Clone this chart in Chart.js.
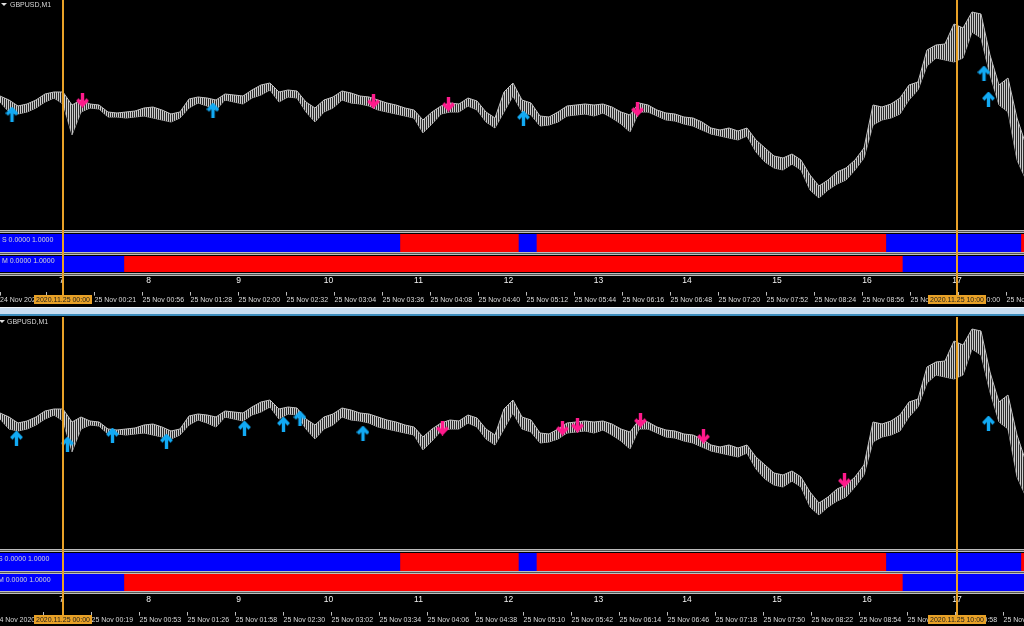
<!DOCTYPE html>
<html lang="en">
<head>
<meta charset="UTF-8">
<title>GBPUSD,M1</title>
<script src="https://cdn.jsdelivr.net/npm/chart.js"></script>
<style>
  body { margin: 0; background: #000; width: 1024px; height: 626px; overflow: hidden; position: relative;
         font-family: "Liberation Sans", Arial, sans-serif; }
  canvas, .sep, .txt, .tri, .gap { position: absolute; }
  canvas { left: 0; }
  .sep { left: 0; width: 1024px; height: 3px; box-sizing: border-box; background: #555;
         border-top: 1px solid #bcbcbc; border-bottom: 1px solid #bcbcbc; }
  .gap { left: 0; top: 307px; width: 1024px; height: 9px; box-sizing: border-box; background: #c8ddf1;
         border-top: 1px solid #eef4fa; border-bottom: 2px solid #3c8dbd; }
  .txt { font-size: 7px; line-height: 8px; color: #d6d6d6; white-space: nowrap; }
  .tri { width: 0; height: 0; border-left: 3px solid transparent; border-right: 3px solid transparent;
         border-top: 3px solid #e0e0e0; }
</style>
</head>
<body>
  <div class="sep" style="top:230px"></div>
  <div class="sep" style="top:252px"></div>
  <div class="sep" style="top:273px"></div>
  <div class="gap"></div>
  <div class="sep" style="top:549px"></div>
  <div class="sep" style="top:571px"></div>
  <div class="sep" style="top:591px"></div>

  <canvas id="priceTop" width="1024" height="232" style="top:0"></canvas>
  <canvas id="sTop" width="1024" height="23" style="top:232px"></canvas>
  <canvas id="mTop" width="1024" height="21" style="top:255px"></canvas>
  <canvas id="axisTop" width="1024" height="28" style="top:276px"></canvas>

  <canvas id="priceBot" width="1024" height="237" style="top:314px"></canvas>
  <canvas id="sBot" width="1024" height="23" style="top:551px"></canvas>
  <canvas id="mBot" width="1024" height="20" style="top:574px"></canvas>
  <canvas id="axisBot" width="1024" height="30" style="top:594px"></canvas>

  <div class="tri" style="left:1px;top:3px"></div>
  <div class="txt" style="left:10px;top:0.5px">GBPUSD,M1</div>
  <div class="txt" style="left:2px;top:236px">S 0.0000 1.0000</div>
  <div class="txt" style="left:2px;top:256.5px">M 0.0000 1.0000</div>

  <div class="tri" style="left:-1px;top:320px"></div>
  <div class="txt" style="left:7px;top:317.5px">GBPUSD,M1</div>
  <div class="txt" style="left:-2px;top:554.5px">S 0.0000 1.0000</div>
  <div class="txt" style="left:-2px;top:575.5px">M 0.0000 1.0000</div>

<script>
    // bar index: 0 = 25 Nov 00:00, one M1 bar = 1.5px on screen
    const xMin = -42, xMax = 640.67;

    // price range (high/low) read every 6 bars, starting at bar -42
    const firstBar = -42, barStep = 6;
    const barHigh = [1.33808,1.33800,1.33788,1.33792,1.33800,1.33812,1.33816,1.33816,1.33790,1.33800,
        1.33792,1.33790,1.33776,1.33774,1.33776,1.33778,1.33784,1.33786,1.33780,1.33772,
        1.33776,1.33802,1.33806,1.33804,1.33800,1.33812,1.33810,1.33808,1.33820,1.33830,
        1.33834,1.33816,1.33820,1.33818,1.33796,1.33784,1.33800,1.33806,1.33818,1.33814,
        1.33808,1.33806,1.33800,1.33794,1.33790,1.33784,1.33780,1.33760,1.33776,1.33788,
        1.33794,1.33792,1.33804,1.33798,1.33776,1.33764,1.33816,1.33834,1.33800,1.33794,
        1.33768,1.33766,1.33776,1.33788,1.33790,1.33792,1.33790,1.33792,1.33786,1.33776,
        1.33770,1.33794,1.33790,1.33780,1.33774,1.33772,1.33766,1.33764,1.33756,1.33744,
        1.33740,1.33744,1.33738,1.33744,1.33720,1.33704,1.33688,1.33684,1.33692,1.33680,
        1.33650,1.33628,1.33640,1.33656,1.33664,1.33680,1.33704,1.33790,1.33786,1.33792,
        1.33804,1.33830,1.33836,1.33900,1.33910,1.33912,1.33952,1.33944,1.33976,1.33972,
        1.33890,1.33830,1.33844,1.33764,1.33710];
    const barLow = [1.33796,1.33776,1.33772,1.33776,1.33784,1.33796,1.33804,1.33792,1.33730,1.33776,
        1.33784,1.33782,1.33766,1.33766,1.33764,1.33766,1.33768,1.33764,1.33760,1.33756,
        1.33764,1.33784,1.33794,1.33788,1.33780,1.33800,1.33796,1.33792,1.33804,1.33810,
        1.33820,1.33796,1.33806,1.33804,1.33776,1.33756,1.33776,1.33784,1.33800,1.33794,
        1.33792,1.33788,1.33780,1.33776,1.33772,1.33768,1.33764,1.33734,1.33752,1.33772,
        1.33776,1.33776,1.33788,1.33780,1.33756,1.33744,1.33776,1.33808,1.33776,1.33770,
        1.33748,1.33750,1.33756,1.33768,1.33770,1.33772,1.33768,1.33774,1.33764,1.33752,
        1.33736,1.33776,1.33776,1.33768,1.33760,1.33758,1.33752,1.33748,1.33740,1.33732,
        1.33728,1.33724,1.33720,1.33728,1.33696,1.33676,1.33664,1.33660,1.33672,1.33660,
        1.33620,1.33604,1.33620,1.33632,1.33640,1.33660,1.33684,1.33750,1.33760,1.33764,
        1.33772,1.33800,1.33820,1.33868,1.33884,1.33880,1.33876,1.33884,1.33936,1.33924,
        1.33850,1.33790,1.33776,1.33680,1.33640];

    // signal arrows (bar index, price at arrow centre)
    const topUpBar = [-34, 100, 307, 614, 617];
    const topUpPrice = [1.33772, 1.33780, 1.33764, 1.33854, 1.33802];
    const topDownBar = [13, 207, 257, 383];
    const topDownPrice = [1.33800, 1.33798, 1.33792, 1.33782];
    const botUpBar = [-31, 3, 33, 69, 121, 147, 158, 200, 617];
    const botUpPrice = [1.33758, 1.33746, 1.33764, 1.33752, 1.33778, 1.33786, 1.33798, 1.33768, 1.33788];
    const botDownBar = [253, 333, 343, 385, 427, 521];
    const botDownPrice = [1.33778, 1.33778, 1.33784, 1.33794, 1.33762, 1.33674];

    // S and M state strips: segment edges (bars) and state (1 = blue, 0 = red)
    const sEdges = [-42, 225, 304, 316, 549, 639, 641];
    const sState = [1, 0, 1, 0, 1, 0];
    const mEdges = [-42, 41, 560, 641];
    const mState = [1, 0, 1];

    // hour numbers under the strips
    const hourBars = [-1, 57, 117, 177, 237, 297, 357, 416, 476, 536, 596];
    const hourLabels = ['7', '8', '9', '10', '11', '12', '13', '14', '15', '16', '17'];

    // time axis
    const topTimeBars = [-42, -11, 21, 53, 85, 117, 149, 181, 213, 245, 277, 309, 341, 373, 405, 437, 469, 501, 533, 565, 597, 629];
    const topTimeLabels = ['24 Nov 2020 23:18', '24 Nov 23:49', '25 Nov 00:21', '25 Nov 00:56', '25 Nov 01:28', '25 Nov 02:00',
        '25 Nov 02:32', '25 Nov 03:04', '25 Nov 03:36', '25 Nov 04:08', '25 Nov 04:40', '25 Nov 05:12', '25 Nov 05:44',
        '25 Nov 06:16', '25 Nov 06:48', '25 Nov 07:20', '25 Nov 07:52', '25 Nov 08:24', '25 Nov 08:56', '25 Nov 09:28',
        '25 Nov 10:00', '25 Nov 10:32'];
    const botTimeBars = [-45, -13, 19, 51, 83, 115, 147, 179, 211, 243, 275, 307, 339, 371, 403, 435, 467, 499, 531, 563, 595, 627];
    const botTimeLabels = ['24 Nov 2020 23:15', '24 Nov 23:47', '25 Nov 00:19', '25 Nov 00:53', '25 Nov 01:26', '25 Nov 01:58',
        '25 Nov 02:30', '25 Nov 03:02', '25 Nov 03:34', '25 Nov 04:06', '25 Nov 04:38', '25 Nov 05:10', '25 Nov 05:42',
        '25 Nov 06:14', '25 Nov 06:46', '25 Nov 07:18', '25 Nov 07:50', '25 Nov 08:22', '25 Nov 08:54', '25 Nov 09:26',
        '25 Nov 09:58', '25 Nov 10:30'];

    // vertical line objects
    const markBars = [0, 596];
    const markLabels = ['2020.11.25 00:00', '2020.11.25 10:00'];

    const markColor = '#e8a127';
    const blue = '#0000ff', red = '#ff0000';
    Chart.defaults.font.family = '"Liberation Sans", Arial, sans-serif';

    function noSidePad(s) { s.paddingLeft = 0; s.paddingRight = 0; }

    function arrowImg(col, up) {
        const c = document.createElement('canvas');
        c.width = 13; c.height = 15;
        const g = c.getContext('2d');
        if (!up) { g.translate(0, 15); g.scale(1, -1); }
        g.strokeStyle = col; g.lineWidth = 3.4;
        g.beginPath(); g.moveTo(6.5, 3); g.lineTo(6.5, 15); g.stroke();
        g.beginPath(); g.moveTo(1.3, 8); g.lineTo(6.5, 2.4); g.lineTo(11.7, 8); g.stroke();
        return c;
    }
    const upImg = arrowImg('#12aaf4', true);
    const downImg = arrowImg('#ff1a8c', false);

    // 1.5px bars look like fine vertical hatching
    function barPattern() {
        const c = document.createElement('canvas');
        c.width = 2; c.height = 1;
        const g = c.getContext('2d');
        g.fillStyle = '#cdcdcd'; g.fillRect(0, 0, 1, 1);
        g.fillStyle = '#2c2c2c'; g.fillRect(1, 0, 1, 1);
        return g.createPattern(c, 'repeat');
    }

    function vlines(fromArea) {
        return {
            id: 'vlines',
            afterDatasetsDraw(chart) {
                const xs = chart.scales.x, ctx = chart.ctx;
                const y0 = fromArea ? chart.chartArea.top : 0;
                ctx.save();
                ctx.strokeStyle = markColor; ctx.lineWidth = 2;
                markBars.forEach(b => {
                    const px = Math.round(xs.getPixelForValue(b));
                    ctx.beginPath(); ctx.moveTo(px, y0); ctx.lineTo(px, chart.height); ctx.stroke();
                });
                ctx.restore();
            }
        };
    }

    const timeBox = {
        id: 'timeBox',
        afterDraw(chart) {
            const xs = chart.scales.x, ctx = chart.ctx;
            const mid = xs.top + 4 + 4.2;
            ctx.save();
            ctx.font = '7px "Liberation Sans", Arial, sans-serif';
            markBars.forEach((b, i) => {
                const px = Math.round(xs.getPixelForValue(b));
                ctx.strokeStyle = markColor; ctx.lineWidth = 2;
                ctx.beginPath(); ctx.moveTo(px, 0); ctx.lineTo(px, mid - 4.5); ctx.stroke();
                const w = Math.ceil(ctx.measureText(markLabels[i]).width) + 4;
                ctx.fillStyle = markColor;
                ctx.fillRect(Math.round(px - w / 2), Math.round(mid - 4.5), w, 9);
                ctx.fillStyle = '#1e1e1e'; ctx.textAlign = 'center'; ctx.textBaseline = 'middle';
                ctx.fillText(markLabels[i], px, mid + 0.5);
            });
            ctx.restore();
        }
    };

    const base = { responsive: false, animation: false, events: [], devicePixelRatio: 1,
        plugins: { legend: { display: false }, tooltip: { enabled: false } } };

    function priceChart(id, yMin, pad, upBar, upPrice, downBar, downPrice) {
        const pts = arr => arr.map((v, i) => ({ x: firstBar + i * barStep, y: v }));
        new Chart(document.getElementById(id), {
            type: 'line',
            data: {
                datasets: [
                    { data: pts(barHigh), borderColor: '#bdbdbd', borderWidth: 1, pointRadius: 0, tension: 0,
                      fill: '+1', backgroundColor: barPattern() },
                    { data: pts(barLow), borderColor: '#9a9a9a', borderWidth: 1, pointRadius: 0, tension: 0, fill: false },
                    { data: upBar.map((b, i) => ({ x: b, y: upPrice[i] })), showLine: false, order: -1,
                      pointStyle: upImg, pointRadius: 6 },
                    { data: downBar.map((b, i) => ({ x: b, y: downPrice[i] })), showLine: false, order: -1,
                      pointStyle: downImg, pointRadius: 6 }
                ]
            },
            options: Object.assign({}, base, {
                layout: { padding: pad, autoPadding: false },
                scales: {
                    x: { type: 'linear', min: xMin, max: xMax, display: false },
                    y: { type: 'linear', min: yMin, max: 1.34, display: false }
                }
            }),
            plugins: [vlines(true)]
        });
    }

    function stripChart(id, edges, state, pad) {
        const segs = state.map((s, i) => ({ x: [edges[i], edges[i + 1]], y: 'v' }));
        new Chart(document.getElementById(id), {
            type: 'bar',
            data: {
                labels: ['v'],
                datasets: [{ data: segs, backgroundColor: state.map(s => s ? blue : red), borderWidth: 0,
                             barPercentage: 1, categoryPercentage: 1 }]
            },
            options: Object.assign({}, base, {
                indexAxis: 'y',
                layout: { padding: pad, autoPadding: false },
                scales: {
                    x: { type: 'linear', min: xMin, max: xMax, display: false },
                    y: { display: false }
                }
            }),
            plugins: [vlines(false)]
        });
    }

    function axisChart(id, timeBars, timeLabels, numPad) {
        new Chart(document.getElementById(id), {
            type: 'line',
            data: { datasets: [] },
            options: Object.assign({}, base, {
                layout: { padding: 0, autoPadding: false },
                scales: {
                    y: { display: false },
                    n: {
                        type: 'linear', axis: 'x', position: 'top', min: xMin, max: xMax, bounds: 'data',
                        afterBuildTicks: s => { s.ticks = hourBars.map(v => ({ value: v })); },
                        afterFit: noSidePad,
                        grid: { display: false, drawTicks: false }, border: { display: false },
                        ticks: { autoSkip: false, maxRotation: 0, padding: numPad, color: '#f2f2f2',
                                 font: { size: 8.5 }, callback: (v, i) => hourLabels[i] }
                    },
                    x: {
                        type: 'linear', position: 'bottom', min: xMin, max: xMax, bounds: 'data',
                        afterBuildTicks: s => { s.ticks = timeBars.map(v => ({ value: v })); },
                        afterFit: noSidePad,
                        grid: { drawOnChartArea: false, drawTicks: true, tickLength: 4, color: '#bdbdbd', lineWidth: 1 },
                        border: { display: false },
                        ticks: { autoSkip: false, maxRotation: 0, align: 'start', padding: 0, color: '#dadada',
                                 font: { size: 7 }, callback: (v, i) => timeLabels[i] }
                    }
                }
            }),
            plugins: [timeBox]
        });
    }

    // upper window
    priceChart('priceTop', 1.3354, { bottom: 2 }, topUpBar, topUpPrice, topDownBar, topDownPrice);
    stripChart('sTop', sEdges, sState, { top: 2, bottom: 3 });
    stripChart('mTop', mEdges, mState, { top: 1, bottom: 4 });
    axisChart('axisTop', topTimeBars, topTimeLabels, 0);

    // lower window
    priceChart('priceBot', 1.33536, { top: 3, bottom: 2 }, botUpBar, botUpPrice, botDownBar, botDownPrice);
    stripChart('sBot', sEdges, sState, { top: 2, bottom: 3 });
    stripChart('mBot', mEdges, mState, { top: 0, bottom: 3 });
    axisChart('axisBot', botTimeBars, botTimeLabels, 1);
</script>
</body>
</html>
